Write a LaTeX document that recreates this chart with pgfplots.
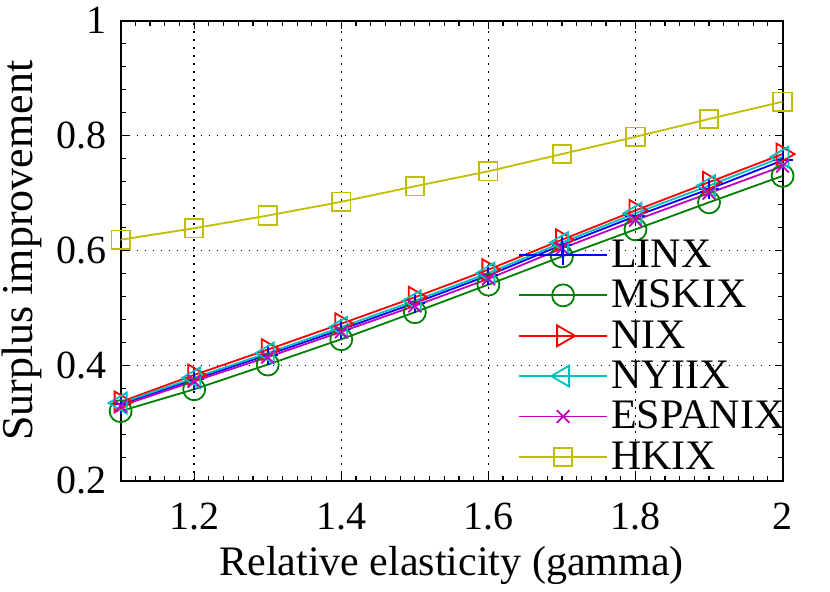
\documentclass[border=0pt]{standalone}
\usepackage{fontspec}
\setmainfont{Liberation Serif}
\usepackage{pgfplots}
\pgfplotsset{compat=1.18}

\definecolor{mblue}{rgb}{0,0,1}
\definecolor{mgreen}{rgb}{0,0.5,0}
\definecolor{mred}{rgb}{1,0,0}
\definecolor{mcyan}{rgb}{0,0.75,0.75}
\definecolor{mmag}{rgb}{0.75,0,0.75}
\definecolor{myel}{rgb}{0.75,0.75,0}

\newcommand{\tickfont}{\rmfamily\fontsize{20bp}{22bp}\selectfont}
\newcommand{\labfont}{\rmfamily\fontsize{21bp}{23bp}\selectfont}
\newcommand{\ylabfont}{\rmfamily\fontsize{22bp}{24bp}\selectfont}

\begin{document}
\begin{tikzpicture}
\begin{axis}[
    scale only axis,
    width=330.9bp, height=230bp,
    xmin=1.1, xmax=2,
    ymin=0.2, ymax=1,
    xtick={1.2,1.4,1.6,1.8,2},
    ytick={0.2,0.4,0.6,0.8,1},
    minor xtick={1.1,1.12,...,2.001},
    minor ytick={0.2,0.24,...,1.001},
    tick align=inside,
    tick pos=both,
    major tick length=4bp,
    minor tick length=2.5bp,
    axis line style={line width=1bp},
    every tick/.style={black, line width=0.6bp},
    grid=major,
    major grid style={black, line width=0.7bp, dash pattern=on 0.7bp off 3.3bp},
    /pgf/number format/assume math mode=true,
    ticklabel style={font=\tickfont, inner sep=0pt},
    xticklabel style={anchor=base, yshift=-24.6bp},
    yticklabel style={anchor=east, xshift=-6.9bp},
    xlabel={Relative elasticity (gamma)},
    ylabel={Surplus improvement},
    label style={inner sep=0pt},
    xlabel style={font=\labfont, at={(rel axis cs:0.5,0)}, anchor=base, yshift=-47.6bp},
    ylabel style={font=\ylabfont, at={([xshift=-44.3bp]rel axis cs:0,0.5)}, anchor=base},
    legend style={at={(rel axis cs:0.591,0.54)}, anchor=north west,
        draw=none, fill=none, row sep=1.9bp,
        font=\labfont,
        nodes={inner sep=1.5bp}},
    legend cell align=left,
    legend image code/.code={\draw[mark repeat=2,mark phase=2]
        plot coordinates {(0bp,0bp) (22bp,0bp) (44bp,0bp)};},
    every axis plot/.append style={line width=0.9bp},
]
\addplot[mblue, mark=+, mark size=5bp] coordinates {
    (1.1,0.333) (1.2,0.376) (1.3,0.419) (1.4,0.463) (1.5,0.509)
    (1.6,0.557) (1.7,0.610) (1.8,0.660) (1.9,0.707) (2.0,0.757)
};
\addlegendentry{LINX}
\addplot[mgreen, mark=o, mark size=5.5bp] coordinates {
    (1.1,0.321) (1.2,0.359) (1.3,0.402) (1.4,0.446) (1.5,0.493)
    (1.6,0.541) (1.7,0.590) (1.8,0.637) (1.9,0.684) (2.0,0.730)
};
\addlegendentry{MSKIX}
\addplot[mred, mark=triangle, mark size=6bp, mark options={rotate=-90}] coordinates {
    (1.1,0.337) (1.2,0.384) (1.3,0.428) (1.4,0.473) (1.5,0.519)
    (1.6,0.567) (1.7,0.619) (1.8,0.670) (1.9,0.719) (2.0,0.768)
};
\addlegendentry{NIX}
\addplot[mcyan, mark=triangle, mark size=6bp, mark options={rotate=90}] coordinates {
    (1.1,0.335) (1.2,0.379) (1.3,0.422) (1.4,0.467) (1.5,0.513)
    (1.6,0.561) (1.7,0.614) (1.8,0.665) (1.9,0.713) (2.0,0.763)
};
\addlegendentry{NYIIX}
\addplot[mmag, mark=x, mark size=4.5bp] coordinates {
    (1.1,0.330) (1.2,0.373) (1.3,0.415) (1.4,0.459) (1.5,0.504)
    (1.6,0.551) (1.7,0.604) (1.8,0.653) (1.9,0.700) (2.0,0.747)
};
\addlegendentry{ESPANIX}
\addplot[myel, mark=square, mark size=4.6bp] coordinates {
    (1.1,0.619) (1.2,0.639) (1.3,0.661) (1.4,0.685) (1.5,0.712)
    (1.6,0.738) (1.7,0.768) (1.8,0.798) (1.9,0.829) (2.0,0.859)
};
\addlegendentry{HKIX}
\coordinate (sw) at (rel axis cs:0,0);
\coordinate (ne) at (rel axis cs:1,1);
\end{axis}
\path ([xshift=-60.3bp,yshift=-55.6bp]sw) rectangle ([xshift=23.7bp,yshift=10.3bp]ne);
\end{tikzpicture}
\end{document}
